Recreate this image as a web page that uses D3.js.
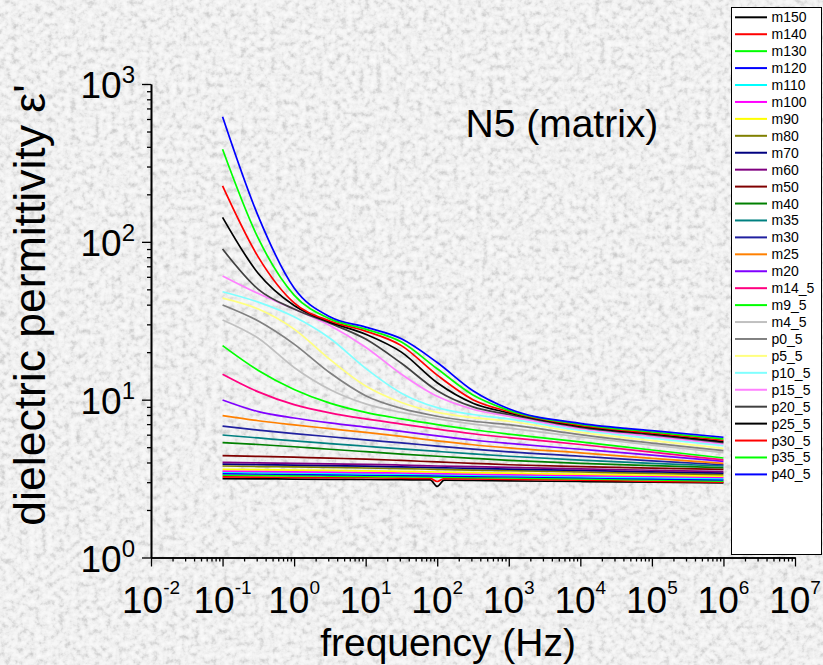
<!DOCTYPE html>
<html>
<head>
<meta charset="utf-8">
<script src="https://cdn.jsdelivr.net/npm/d3@7"></script>
<style>
  html, body { margin: 0; padding: 0; background: #dcdcdc; }
  svg { display: block; }
  text { font-family: "Liberation Sans", Arial, sans-serif; fill: #000; }
</style>
</head>
<body>
<svg id="chart" width="823" height="665"></svg>
<script>
// Frequency grid (Hz) shared by the smooth curves
const freqHz = [0.1, 0.316, 1, 3.16, 10, 31.6, 100, 316, 1e3, 1e4, 1e5, 1e6];
// Grid with extra points around the 100 Hz pickup notch
const notchFreqHz = [0.1, 0.316, 1, 3.16, 10, 31.6, 80, 100, 125, 316, 1e3, 1e4, 1e5, 1e6];

// Real permittivity ε' per run
const m150 = [3.16, 3.15, 3.14, 3.13, 3.12, 3.11, 3.10, 2.82, 3.09, 3.08, 3.06, 3.03, 3.00, 2.97];
const m140 = [3.24, 3.23, 3.22, 3.21, 3.20, 3.18, 3.17, 3.03, 3.16, 3.15, 3.13, 3.09, 3.04, 3.00];
const m130 = [3.32, 3.31, 3.29, 3.28, 3.26, 3.25, 3.23, 3.21, 3.19, 3.15, 3.10, 3.05];
const m120 = [3.40, 3.38, 3.36, 3.34, 3.33, 3.31, 3.29, 3.27, 3.25, 3.20, 3.15, 3.10];
const m110 = [3.47, 3.45, 3.43, 3.41, 3.39, 3.37, 3.35, 3.32, 3.30, 3.25, 3.20, 3.16];
const m100 = [3.53, 3.51, 3.49, 3.47, 3.45, 3.43, 3.40, 3.37, 3.35, 3.30, 3.26, 3.22];
const m90  = [3.62, 3.60, 3.58, 3.56, 3.54, 3.51, 3.48, 3.45, 3.42, 3.37, 3.32, 3.28];
const m80  = [3.80, 3.77, 3.75, 3.72, 3.69, 3.66, 3.62, 3.58, 3.55, 3.48, 3.41, 3.35];
const m70  = [3.91, 3.88, 3.85, 3.82, 3.79, 3.75, 3.71, 3.67, 3.63, 3.56, 3.49, 3.42];
const m60  = [4.01, 3.98, 3.95, 3.92, 3.89, 3.85, 3.80, 3.76, 3.72, 3.64, 3.57, 3.50];
const m50  = [4.42, 4.37, 4.32, 4.26, 4.20, 4.12, 4.03, 3.95, 3.87, 3.76, 3.68, 3.62];
const m40  = [5.34, 5.20, 5.03, 4.85, 4.68, 4.52, 4.38, 4.25, 4.13, 3.95, 3.82, 3.71];
const m35  = [5.97, 5.72, 5.48, 5.27, 5.07, 4.88, 4.70, 4.53, 4.38, 4.14, 3.95, 3.80];
const m30  = [6.80, 6.42, 6.10, 5.82, 5.56, 5.32, 5.08, 4.86, 4.67, 4.38, 4.10, 3.87];
const m25  = [7.92, 7.35, 6.92, 6.55, 6.20, 5.85, 5.48, 5.18, 4.95, 4.60, 4.25, 3.95];
const m20  = [9.96, 8.40, 7.65, 7.12, 6.70, 6.30, 5.90, 5.55, 5.28, 4.85, 4.45, 4.07];
const m14_5 = [14.5, 11.2, 9.3, 8.25, 7.55, 7.0, 6.5, 6.08, 5.75, 5.2, 4.65, 4.15];
const m9_5  = [22.0, 15.3, 11.6, 9.5, 8.3, 7.55, 6.95, 6.45, 6.05, 5.4, 4.8, 4.27];
const m4_5  = [32.0, 24.5, 16.0, 11.6, 9.4, 8.3, 7.55, 7.0, 6.6, 5.8, 5.15, 4.62];
const p0_5  = [39.8, 31.5, 22.5, 14.8, 10.6, 8.8, 7.85, 7.3, 6.95, 6.0, 5.3, 4.75];
const p5_5  = [44.0, 37.5, 28.0, 18.0, 12.2, 9.6, 8.3, 7.7, 7.3, 6.2, 5.5, 4.91];
const p10_5 = [48.3, 41.5, 33.5, 24.5, 15.8, 11.0, 8.9, 8.05, 7.55, 6.4, 5.7, 5.11];
const p15_5 = [60.8, 47.0, 37.5, 29.5, 21.5, 14.5, 10.5, 8.7, 7.85, 6.55, 5.85, 5.25];
const p20_5 = [90, 50, 37.5, 30.5, 24.2, 17.0, 11.4, 9.0, 8.05, 6.68, 5.98, 5.34];
const p25_5 = [143, 63, 39.5, 31.0, 26.0, 20.0, 12.8, 9.5, 8.25, 6.78, 6.06, 5.42];
const p30_5 = [226, 80, 41, 31.5, 27.2, 22.0, 14.3, 10.0, 8.4, 6.88, 6.15, 5.53];
const p35_5 = [386, 105, 46, 32.5, 28.0, 23.2, 15.7, 10.7, 8.55, 6.98, 6.24, 5.64];
const p40_5 = [621, 145, 51, 33.5, 28.8, 24.3, 17.2, 11.4, 8.75, 7.08, 6.36, 5.78];

const seriesNames = ["m150", "m140", "m130", "m120", "m110", "m100", "m90", "m80", "m70", "m60",
  "m50", "m40", "m35", "m30", "m25", "m20", "m14_5", "m9_5", "m4_5", "p0_5",
  "p5_5", "p10_5", "p15_5", "p20_5", "p25_5", "p30_5", "p35_5", "p40_5"];
const seriesValues = [m150, m140, m130, m120, m110, m100, m90, m80, m70, m60,
  m50, m40, m35, m30, m25, m20, m14_5, m9_5, m4_5, p0_5,
  p5_5, p10_5, p15_5, p20_5, p25_5, p30_5, p35_5, p40_5];
const seriesColors = ["#000000", "#ff0000", "#00ff00", "#0000ff", "#00ffff", "#ff00ff", "#ffff00",
  "#808000", "#000080", "#800080", "#800000", "#008000", "#008080", "#2020a0", "#ff8000",
  "#8000ff", "#ff0080", "#00ff00", "#c0c0c0", "#808080", "#ffff80", "#80ffff", "#ff80ff",
  "#404040", "#000000", "#ff0000", "#00ff00", "#0000ff"];

const xDecades = [-2, -1, 0, 1, 2, 3, 4, 5, 6, 7];
const yDecades = [0, 1, 2, 3];

const svg = d3.select("#chart");
const W = 823, H = 665;

// Stone-like mottled backdrop: light base with sparse darker flecks
const defs = svg.append("defs");
const f = defs.append("filter").attr("id", "granite")
  .attr("x", 0).attr("y", 0).attr("width", "100%").attr("height", "100%");
f.append("feTurbulence").attr("type", "fractalNoise").attr("baseFrequency", "0.17")
  .attr("numOctaves", 3).attr("seed", 11).attr("result", "n");
f.append("feColorMatrix").attr("type", "matrix").attr("in", "n")
  .attr("values", "1 0 0 0 0  1 0 0 0 0  1 0 0 0 0  0 0 0 0 1").attr("result", "g");
const ct = f.append("feComponentTransfer").attr("in", "g");
["feFuncR", "feFuncG", "feFuncB"].forEach(fn =>
  ct.append(fn).attr("type", "table").attr("tableValues", "0.55 0.62 0.72 0.84 0.9 0.93 0.96 0.98"));
svg.append("rect").attr("width", W).attr("height", H).attr("filter", "url(#granite)");

// Scales
const x = d3.scaleLog().domain([1e-2, 1e7]).range([151, 795]);
const y = d3.scaleLog().domain([1, 1e3]).range([557.5, 84]);

// Minor and major ticks
const minorX = [], minorY = [];
xDecades.slice(0, -1).forEach(d => { for (let k = 2; k <= 9; k++) minorX.push(k * Math.pow(10, d)); });
yDecades.slice(0, -1).forEach(d => { for (let k = 2; k <= 9; k++) minorY.push(k * Math.pow(10, d)); });
const majorX = xDecades.map(d => Math.pow(10, d));
const majorY = yDecades.map(d => Math.pow(10, d));

function styleAxis(g) {
  g.selectAll("path").attr("stroke", "#000").attr("stroke-width", 1.6);
  g.selectAll("line").attr("stroke", "#000").attr("stroke-width", 1.3);
  g.selectAll("text").remove();
}
svg.append("g").attr("transform", "translate(0,557.5)")
  .call(d3.axisBottom(x).tickValues(minorX).tickSize(4).tickSizeOuter(0)).call(styleAxis);
svg.append("g").attr("transform", "translate(0,557.5)")
  .call(d3.axisBottom(x).tickValues(majorX).tickSize(9).tickSizeOuter(0)).call(styleAxis);
svg.append("g").attr("transform", "translate(151,0)")
  .call(d3.axisLeft(y).tickValues(minorY).tickSize(4).tickSizeOuter(0)).call(styleAxis);
svg.append("g").attr("transform", "translate(151,0)")
  .call(d3.axisLeft(y).tickValues(majorY).tickSize(9).tickSizeOuter(0)).call(styleAxis);

// Power-of-ten tick labels
const xl = svg.append("g").selectAll("text").data(xDecades).join("text")
  .attr("x", d => x(Math.pow(10, d))).attr("y", 613.3)
  .attr("text-anchor", "middle").attr("font-size", 37);
xl.append("tspan").text("10");
xl.append("tspan").attr("font-size", 19).attr("dy", -19.7).text(d => String(d));

const yl = svg.append("g").selectAll("text").data(yDecades).join("text")
  .attr("x", 135).attr("y", d => y(Math.pow(10, d)) + 14)
  .attr("text-anchor", "end").attr("font-size", 37);
yl.append("tspan").text("10");
yl.append("tspan").attr("font-size", 24).attr("dy", -15).text(d => String(d));

// Axis titles
svg.append("text").attr("x", 448).attr("y", 656).attr("text-anchor", "middle")
  .attr("font-size", 39).text("frequency (Hz)");
svg.append("text").attr("transform", "translate(45,305) rotate(-90)")
  .attr("text-anchor", "middle").attr("font-size", 44.5).text("dielectric permittivity ε'");
svg.append("text").attr("x", 465.5).attr("y", 137.3).attr("font-size", 39).text("N5 (matrix)");

// Curves
const line = d3.line().x(d => x(d.f)).y(d => y(d.v)).curve(d3.curveMonotoneX);
const series = seriesNames.map((name, i) => {
  const vals = seriesValues[i];
  const fr = vals.length === notchFreqHz.length ? notchFreqHz : freqHz;
  return { name, color: seriesColors[i], points: vals.map((v, j) => ({ f: fr[j], v })) };
});
svg.append("g").selectAll("path").data(series).join("path")
  .attr("d", d => line(d.points))
  .attr("fill", "none").attr("stroke", d => d.color).attr("stroke-width", 1.7);

// Legend
const lg = svg.append("g");
lg.append("rect").attr("x", 731.5).attr("y", 7.5).attr("width", 90).attr("height", 547)
  .attr("fill", "#fff").attr("stroke", "#000").attr("stroke-width", 1);
const rows = lg.selectAll("g.row").data(series).join("g").attr("class", "row")
  .attr("transform", (d, i) => `translate(0,${17.3 + i * 16.93})`);
rows.append("line").attr("x1", 735).attr("x2", 767).attr("stroke", d => d.color).attr("stroke-width", 2);
rows.append("text").attr("x", 771.5).attr("y", 5).attr("font-size", 14).text(d => d.name);
</script>
</body>
</html>
